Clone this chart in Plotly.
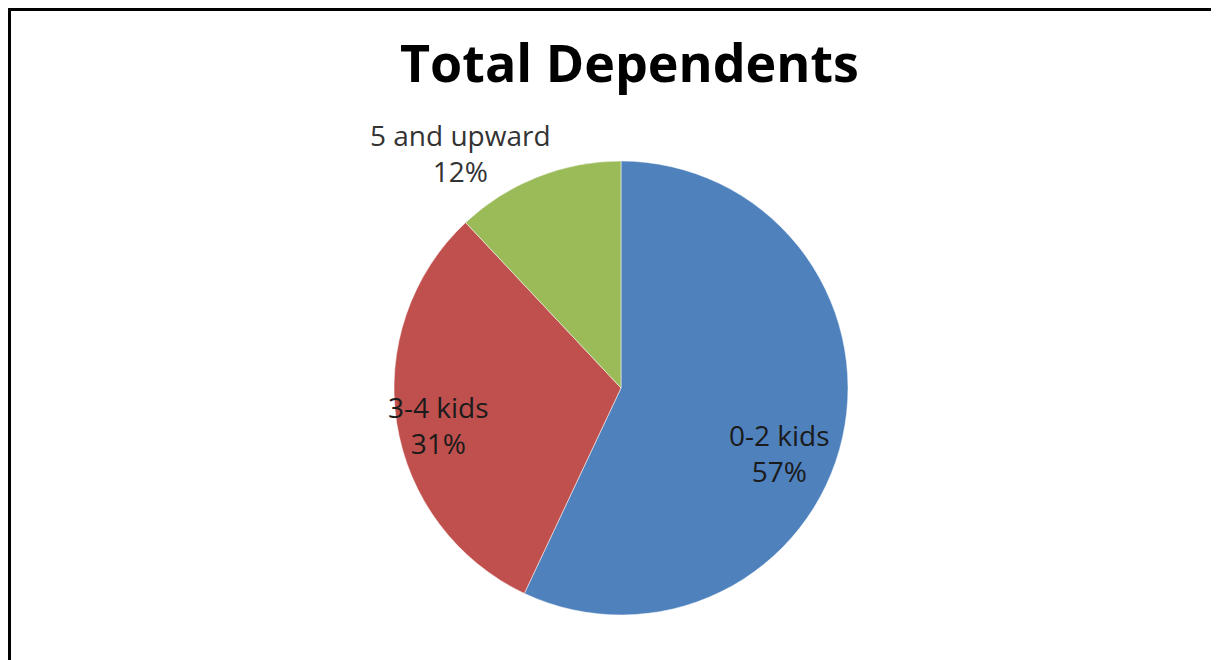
import plotly.graph_objects as go

categories = ["0-2 kids", "3-4 kids", "5 and upward"]
values = [57, 31, 12]
colors = ["#4F81BD", "#C0504D", "#9BBB59"]

# page has an 8px body margin; figure sized to fit the window
OFF = 8
W, H = 1219 - OFF, 660 - OFF
cx, cy, r = 621 - OFF, 388 - OFF, 227

fig = go.Figure(go.Pie(
    labels=categories, values=values, sort=False, direction="clockwise",
    rotation=0, textinfo="none", hoverinfo="label+percent",
    marker=dict(colors=colors, line=dict(color="white", width=0.5)),
    domain=dict(x=[(cx - r) / W, (cx + r) / W], y=[(H - cy - r) / H, (H - cy + r) / H]),
    showlegend=False,
))

label_pos = [(780, 453), (438, 425), (460, 153)]
label_col = ["#1b1b1b", "#1b1b1b", "#333333"]
for cat, val, (px, py), col in zip(categories, values, label_pos, label_col):
    fig.add_annotation(x=(px - OFF) / W, y=1 - (py - OFF) / H, xref="paper", yref="paper",
                       text=f"{cat}<br>{val}%", showarrow=False,
                       font=dict(family="Open Sans", size=28, color=col),
                       align="center", xanchor="center", yanchor="middle")

fig.add_annotation(x=(629 - OFF) / W, y=1 - (62 - OFF) / H, xref="paper", yref="paper",
                   text="<b>Total Dependents</b>", showarrow=False,
                   font=dict(family="Open Sans", size=52, color="black"),
                   xanchor="center", yanchor="middle")

fig.add_shape(type="line", xref="paper", yref="paper", x0=0, x1=1,
              y0=1 - 1.5 / H, y1=1 - 1.5 / H, line=dict(color="black", width=3))
fig.add_shape(type="line", xref="paper", yref="paper", x0=1.5 / W, x1=1.5 / W,
              y0=0, y1=1, line=dict(color="black", width=3))

fig.update_layout(width=W, height=H, margin=dict(l=0, r=0, t=0, b=0),
                  paper_bgcolor="white", plot_bgcolor="white")
fig.write_html("out.html")
